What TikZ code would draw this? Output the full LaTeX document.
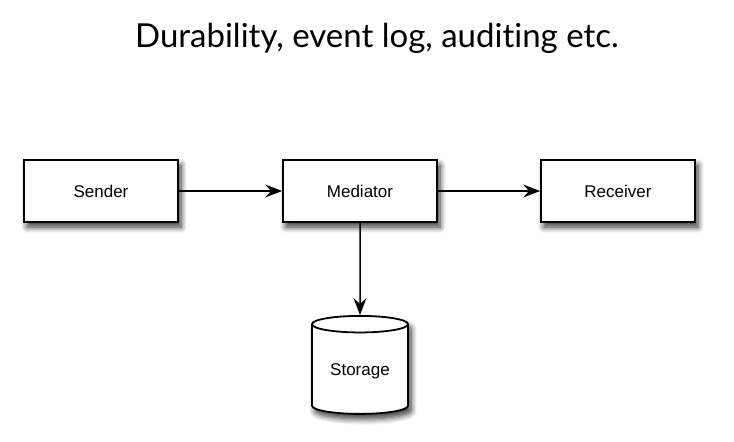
\documentclass[tikz,border=0pt]{standalone}
\usepackage{fontspec}
\setmainfont{Liberation Sans}
\newfontfamily\titlefont[Ligatures=NoCommon]{Lato}
\usetikzlibrary{shapes.geometric,shadows.blur,arrows.meta}

\begin{document}
\begin{tikzpicture}[x=1pt,y=-1pt,
	shade/.style={blur shadow={shadow xshift=3pt, shadow yshift=-5pt, shadow blur radius=6pt,
		shadow opacity=80, shadow blur steps=8}},
	box/.style={draw, line width=1.8pt, fill=white, minimum width=154pt, minimum height=62pt,
		font=\fontsize{17}{20}\selectfont, shade},
	store/.style={draw, line width=1.8pt, fill=white, cylinder, shape border rotate=90, aspect=0.25,
		minimum width=96pt, minimum height=98pt, font=\fontsize{17}{20}\selectfont, shade},
	link/.style={line width=1.5pt, -{Stealth[length=17pt, width=13pt, inset=6pt]}}]
	\useasboundingbox (0,0) rectangle (734,442);

	\node[font=\titlefont\fontsize{33}{40}\selectfont] (title) at (377,38) {Durability, event log, auditing etc.};

	\node[box] (sender) at (101,191) {Sender};
	\node[box] (mediator) at (360,191) {Mediator};
	\node[box] (receiver) at (618,191) {Receiver};
	\node[store] (storage) at (360,371) {Storage};

	\draw[link] (sender) -- (mediator);
	\draw[link] (mediator) -- (receiver);
	\draw[link] (mediator) -- (storage.north);
\end{tikzpicture}
\end{document}
